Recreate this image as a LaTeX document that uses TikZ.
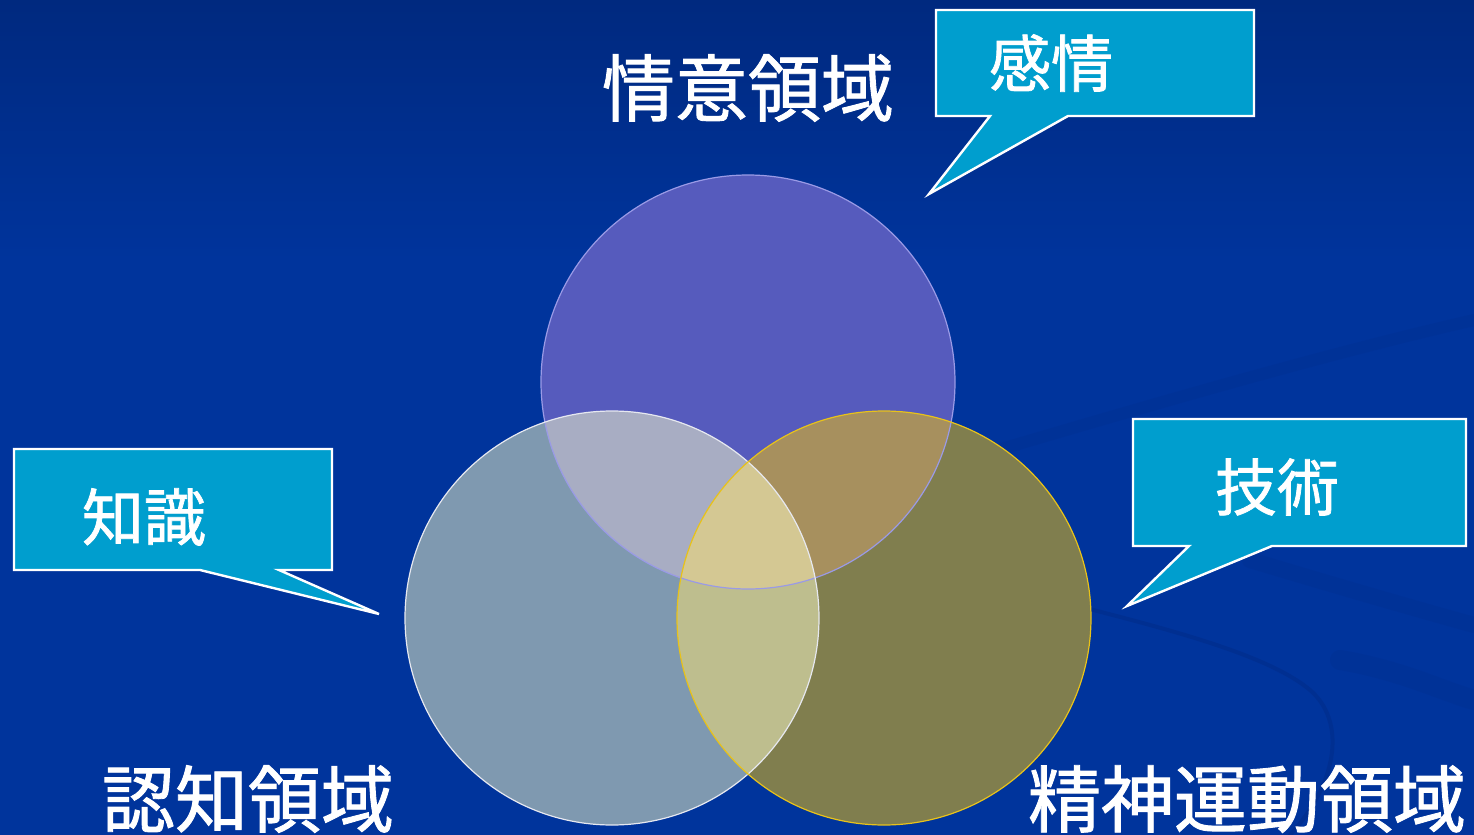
\documentclass[tikz,border=0pt]{standalone}
\usepackage{fontspec}
\newfontfamily\cjk[FakeBold=1.2]{Noto Sans CJK JP}
\begin{document}
\begin{tikzpicture}[x=0.5pt,y=-0.5pt,
  callout/.style={fill=calloutblue,draw=white,line width=1.2pt,line join=miter},
  calltext/.style={text=white,font=\cjk\fontsize{31pt}{31pt}\selectfont,inner sep=0pt},
  titletext/.style={text=white,font=\cjk\fontsize{36.5pt}{36.5pt}\selectfont,inner sep=0pt},
  swoosh/.style={draw=swooshblue,line cap=round,opacity=0.4}]
\definecolor{bgtop}{HTML}{00297F}
\definecolor{bgmid}{HTML}{00349C}
\definecolor{swooshblue}{HTML}{002A84}
\definecolor{calloutblue}{HTML}{009ECE}
\definecolor{cT}{HTML}{565BBD}
\definecolor{cL}{HTML}{7F99B0}
\definecolor{cR}{HTML}{807E4E}
\definecolor{cTL}{HTML}{A8ADC3}
\definecolor{cTR}{HTML}{A7905E}
\definecolor{cLR}{HTML}{BEBE8E}
\definecolor{cTLR}{HTML}{D4C893}
\definecolor{oT}{HTML}{9A9AE6}
\definecolor{oL}{HTML}{E6E8F0}
\definecolor{oR}{HTML}{E8C21A}
\useasboundingbox (0,0) rectangle (1474,835);
\clip (0,0) rectangle (1474,835);
% background
\fill[bgmid] (0,0) rectangle (1474,835);
\shade[top color=bgtop,bottom color=bgmid] (0,0) rectangle (1474,260);
% swooshes
\draw[swoosh,line width=6pt,opacity=0.18] (930,470) .. controls (1100,420) and (1300,360) .. (1474,320);
\draw[swoosh,line width=2pt,opacity=0.45] (900,560) .. controls (1080,610) and (1250,640) .. (1310,690) .. controls (1345,720) and (1340,780) .. (1290,835);
\draw[swoosh,line width=8pt,opacity=0.18] (1250,560) .. controls (1350,590) and (1420,610) .. (1474,625);
\draw[swoosh,line width=10pt,opacity=0.18] (1340,660) .. controls (1400,670) and (1440,690) .. (1474,700);
% circles
\coordinate (T) at (748,382);
\coordinate (L) at (612,618);
\coordinate (R) at (884,618);
\def\rr{103.5pt}
\fill[cT] (T) circle[radius=\rr];
\fill[cL] (L) circle[radius=\rr];
\fill[cR] (R) circle[radius=\rr];
\begin{scope}
  \clip (T) circle[radius=\rr];
  \fill[cTL] (L) circle[radius=\rr];
  \fill[cTR] (R) circle[radius=\rr];
\end{scope}
\begin{scope}
  \clip (L) circle[radius=\rr];
  \fill[cLR] (R) circle[radius=\rr];
  \clip (T) circle[radius=\rr];
  \fill[cTLR] (R) circle[radius=\rr];
\end{scope}
\draw[oT,line width=0.6pt] (T) circle[radius=\rr];
\draw[oL,line width=0.6pt] (L) circle[radius=\rr];
\draw[oR,line width=0.6pt] (R) circle[radius=\rr];
% callouts
\coordinate (k1) at (936,10);
\coordinate (k2) at (1254,116);
\coordinate (kt) at (929,194);
\draw[callout] (k1) -- (1254,10) -- (k2) -- (1068,116) -- (kt) -- (990,116) -- (936,116) -- cycle;
\node[calltext] (kanjo) at (1051,63) {感情};
\coordinate (c1) at (14,449);
\coordinate (ct) at (379,614);
\draw[callout] (c1) -- (332,449) -- (332,570) -- (279,570) -- (ct) -- (200,570) -- (14,570) -- cycle;
\node[calltext] (chishiki) at (144,517) {知識};
\coordinate (g1) at (1133,419);
\coordinate (gt) at (1127,606);
\draw[callout] (g1) -- (1466,419) -- (1466,546) -- (1272,546) -- (gt) -- (1189,546) -- (1133,546) -- cycle;
\node[calltext] (gijutsu) at (1277,487) {技術};
% titles
\node[titletext] (joi) at (748,88) {情意領域};
\node[titletext] (ninchi) at (248,799) {認知領域};
\node[titletext] (seishin) at (1247,799) {精神運動領域};
\end{tikzpicture}
\end{document}
